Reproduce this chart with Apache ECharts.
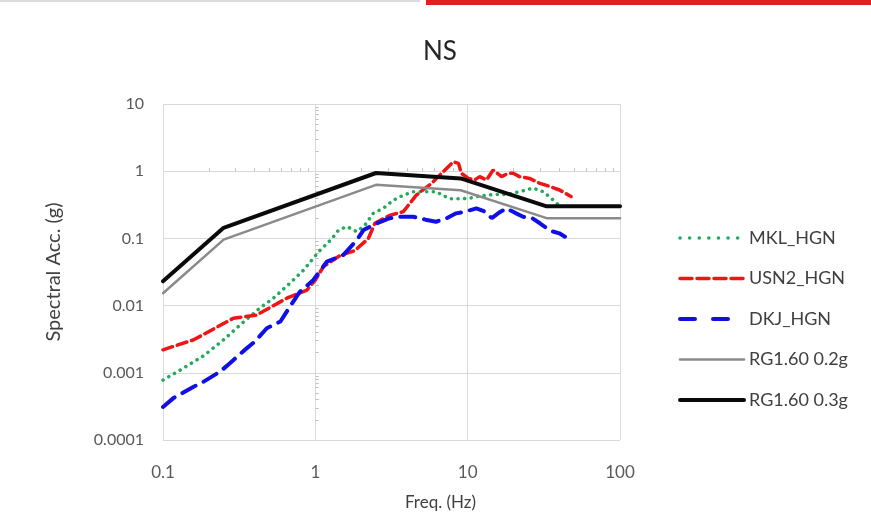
<!DOCTYPE html>
<html>
<head>
<meta charset="utf-8">
<script src="https://cdn.jsdelivr.net/npm/echarts@6/dist/echarts.min.js"></script>
<style>
html,body{margin:0;padding:0;background:#fff;}
#chart{width:871px;height:520px;}
</style>
</head>
<body>
<div id="chart"></div>
<script>
// ---- data ----
var titleText = 'NS';
var xTicks = [0.1, 1, 10, 100];
var yTicks = [0.0001, 0.001, 0.01, 0.1, 1, 10];
var xMinor = [0.2,0.3,0.4,0.5,0.6,0.7,0.8,0.9,2,3,4,5,6,7,8,9,20,30,40,50,60,70,80,90];
var yMinor = [0.0002,0.0003,0.0004,0.0005,0.0006,0.0007,0.0008,0.0009,
              0.002,0.003,0.004,0.005,0.006,0.007,0.008,0.009,
              0.02,0.03,0.04,0.05,0.06,0.07,0.08,0.09,
              0.2,0.3,0.4,0.5,0.6,0.7,0.8,0.9,
              2,3,4,5,6,7,8,9];

var seriesNames = ['MKL_HGN', 'USN2_HGN', 'DKJ_HGN', 'RG1.60 0.2g', 'RG1.60 0.3g'];

var mklFreq = [0.1, 0.13, 0.185, 0.25, 0.34, 0.43, 0.53, 0.68, 0.84, 1.05, 1.29, 1.42, 1.61, 1.87, 2.12, 2.4, 2.79, 3.25, 3.78, 4.4, 5.35, 6.2, 7.6, 9.3, 10.5, 12, 15, 18, 21.9, 26.9, 31.4, 36.6, 41.6];
var mklAcc  = [0.00078, 0.0011, 0.0018, 0.0031, 0.0058, 0.0091, 0.0129, 0.0215, 0.034, 0.063, 0.1, 0.133, 0.15, 0.126, 0.158, 0.236, 0.28, 0.37, 0.44, 0.495, 0.495, 0.495, 0.39, 0.39, 0.40, 0.43, 0.45, 0.45, 0.495, 0.56, 0.495, 0.37, 0.28];

var usnFreq = [0.1, 0.159, 0.29, 0.41, 0.65, 0.88, 1.0, 1.13, 1.46, 1.82, 2.23, 2.46, 3.08, 3.78, 4.6, 5.8, 6.9, 8.05, 8.7, 9.1, 10.1, 11.1, 12, 13.3, 14.7, 16.7, 18.4, 19.9, 21.9, 25.5, 29.8, 34.8, 40.1, 47.7];
var usnAcc  = [0.0022, 0.0031, 0.0065, 0.0072, 0.0129, 0.017, 0.024, 0.038, 0.056, 0.066, 0.1, 0.168, 0.22, 0.25, 0.44, 0.66, 0.98, 1.38, 1.31, 0.93, 0.78, 0.74, 0.83, 0.74, 1.04, 0.83, 0.93, 0.93, 0.83, 0.78, 0.66, 0.59, 0.525, 0.42];

var dkjFreq = [0.1, 0.117, 0.159, 0.185, 0.237, 0.276, 0.337, 0.4, 0.48, 0.59, 0.68, 0.79, 0.97, 1.19, 1.53, 1.87, 2.07, 2.54, 3.08, 3.6, 4.4, 5.3, 6.2, 7.3, 8.4, 9.6, 11.4, 13.0, 14.4, 16.0, 18.0, 20.5, 23.1, 26.5, 29.8, 34.8, 40, 43.5];
var dkjAcc  = [0.00031, 0.00042, 0.00062, 0.00074, 0.00104, 0.0014, 0.0021, 0.0029, 0.0046, 0.0058, 0.0096, 0.016, 0.024, 0.045, 0.057, 0.094, 0.133, 0.168, 0.2, 0.21, 0.21, 0.19, 0.177, 0.2, 0.236, 0.25, 0.28, 0.25, 0.2, 0.24, 0.28, 0.24, 0.21, 0.2, 0.168, 0.13, 0.119, 0.106];

var rg02Freq = [0.1, 0.25, 2.5, 9, 33, 100];
var rg02Acc  = [0.0153, 0.096, 0.626, 0.52, 0.2, 0.2];

var rg03Freq = [0.1, 0.25, 2.5, 9, 33, 100];
var rg03Acc  = [0.023, 0.144, 0.94, 0.78, 0.3, 0.3];

// ---- helpers ----
function zip(xs, ys) { return xs.map(function (x, i) { return [x, ys[i]]; }); }
function fmt(v) { return String(Number(Number(v).toPrecision(6))); }
var FONT = 'Lato, "Open Sans", sans-serif';

var COLORS = ['#22a95a', '#f01414', '#1010e6', '#8a8a8a', '#0a0a0a'];
var WIDTHS = [3.5, 3.5, 4, 2.5, 4];
var DASHES = [[0.1, 6.5], [10, 5], [15, 9], 'solid', 'solid'];
var LEGEND_DASHES = [[0.1, 9.5], [12, 5], [15, 18], 'solid', 'solid'];

var chart = echarts.init(document.getElementById('chart'), null, { renderer: 'canvas' });

var series = [
  zip(mklFreq, mklAcc),
  zip(usnFreq, usnAcc),
  zip(dkjFreq, dkjAcc),
  zip(rg02Freq, rg02Acc),
  zip(rg03Freq, rg03Acc)
].map(function (d, i) {
  return {
    name: seriesNames[i], type: 'line', xAxisIndex: 0, yAxisIndex: 0,
    symbol: 'none',
    data: d,
    itemStyle: { color: COLORS[i] },
    lineStyle: { color: COLORS[i], width: WIDTHS[i], type: DASHES[i], cap: 'round' }
  };
});

var option = {
  backgroundColor: '#ffffff',
  animation: false,
  textStyle: { fontFamily: FONT },
  title: {
    text: titleText,
    left: 435,
    textAlign: 'center',
    top: 34,
    textStyle: { fontFamily: FONT, fontSize: 26, fontWeight: 'normal', color: '#262626' }
  },
  graphic: [
    { type: 'rect', shape: { x: 0, y: 0, width: 420, height: 2 }, style: { fill: '#dcdce0' }, silent: true },
    { type: 'rect', shape: { x: 426, y: 0, width: 445, height: 5 }, style: { fill: '#e02020' }, silent: true }
  ],
  legend: {
    orient: 'vertical',
    left: 673,
    top: 223,
    itemWidth: 64,
    itemHeight: 20,
    itemGap: 20.5,
    data: seriesNames.map(function (n, i) {
      return {
        name: n,
        itemStyle: { opacity: 0 },
        lineStyle: { color: COLORS[i], width: WIDTHS[i], type: LEGEND_DASHES[i], cap: 'round' }
      };
    }),
    itemStyle: { opacity: 0 },
    textStyle: { fontFamily: FONT, fontSize: 18, lineHeight: 20, color: '#404040' }
  },
  grid: {
    left: 163, right: 251, top: 104, bottom: 80,
    containLabel: false,
    outerBoundsMode: 'none'
  },
  xAxis: [
    {
      type: 'log', logBase: 10, min: xTicks[0], max: xTicks[xTicks.length - 1],
      interval: 1,
      name: 'Freq. (Hz)', nameLocation: 'middle', nameGap: 54,
      nameTextStyle: { fontFamily: FONT, fontSize: 17, color: '#404040', padding: [0, 0, 0, 98] },
      axisLine: { show: false },
      axisTick: { show: false },
      axisLabel: { margin: 24, fontFamily: FONT, fontSize: 17, color: '#595959', formatter: fmt },
      splitLine: { show: true, lineStyle: { color: '#d9d9d9', width: 1 } }
    },
    {
      // minor tick marks drawn along the y = 1 line (Excel axis crossing)
      type: 'value', min: Math.log10(xTicks[0]), max: Math.log10(xTicks[xTicks.length - 1]),
      position: 'top', offset: -67.2,
      axisLine: { show: false },
      axisTick: { show: true, length: 3, inside: false, customValues: xMinor.map(Math.log10), lineStyle: { color: '#bfbfbf' } },
      axisLabel: { show: false },
      splitLine: { show: false }
    }
  ],
  yAxis: [
    {
      type: 'log', logBase: 10, min: yTicks[0], max: yTicks[yTicks.length - 1],
      interval: 1,
      name: 'Spectral Acc. (g)', nameLocation: 'middle', nameGap: 99,
      nameTextStyle: { fontFamily: FONT, fontSize: 20, color: '#404040' },
      axisLine: { show: false },
      axisTick: { show: false },
      axisLabel: { margin: 19, fontFamily: FONT, fontSize: 16, color: '#595959', formatter: fmt },
      splitLine: { show: true, lineStyle: { color: '#d9d9d9', width: 1 } }
    },
    {
      // minor tick marks drawn along the x = 1 line
      type: 'value', min: Math.log10(yTicks[0]), max: Math.log10(yTicks[yTicks.length - 1]),
      position: 'left', offset: -152.7,
      axisLine: { show: false },
      axisTick: { show: true, length: 3, inside: true, customValues: yMinor.map(Math.log10), lineStyle: { color: '#bfbfbf' } },
      axisLabel: { show: false },
      splitLine: { show: false }
    }
  ],
  series: series
};

chart.setOption(option);
</script>
</body>
</html>
